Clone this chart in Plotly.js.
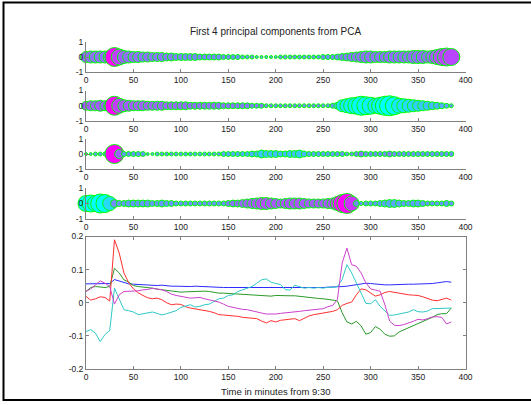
<!DOCTYPE html>
<html>
<head>
<meta charset="utf-8">
<script src="https://cdn.plot.ly/plotly-3.0.1.min.js"></script>
<style>
  html, body { margin: 0; padding: 0; background: #fff; }
  #wrap { position: relative; width: 531px; height: 405px; overflow: hidden; }
  #chart { position: absolute; left: 0; top: 0; width: 531px; height: 405px; }
  #clip { position: absolute; left: 5px; top: 396px; width: 526px; height: 3px; background: #fff; }
</style>
</head>
<body>
<div id="wrap"><div id="chart"></div><div id="clip"></div></div>
<script>
// ---------------- data ----------------
const minutes = [0,5,10,15,20,25,30,35,40,45,50,55,60,65,70,75,80,85,90,95,
  100,105,110,115,120,125,130,135,140,145,150,155,160,165,170,175,180,185,190,195,
  200,205,210,215,220,225,230,235,240,245,250,255,260,265,270,275,280,285,290,295,
  300,305,310,315,320,325,330,335,340,345,350,355,360,365,370,375,380,385];

// relative bubble magnitude (0..1) and colour tone (0 = cyan, 1 = magenta) per component
const pc1Mag = [0.55,0.6,0.6,0.6,0.6,0.65,0.95,0.8,0.65,0.6,
  0.55,0.55,0.5,0.5,0.45,0.45,0.45,0.4,0.4,0.35,
  0.35,0.35,0.35,0.35,0.3,0.3,0.3,0.3,0.3,0.25,
  0.25,0.25,0.25,0.2,0.2,0.2,0.15,0.15,0.15,0.15,
  0.15,0.2,0.2,0.2,0.2,0.2,0.2,0.2,0.2,0.2,
  0.25,0.25,0.25,0.3,0.35,0.4,0.45,0.5,0.55,0.6,
  0.6,0.55,0.55,0.55,0.6,0.6,0.6,0.6,0.6,0.65,
  0.65,0.65,0.6,0.65,0.75,0.85,0.9,0.85];
const pc1Tone = [0.56,0.57,0.57,0.57,0.57,0.58,1.0,0.75,0.62,0.58,
  0.57,0.56,0.55,0.55,0.54,0.53,0.53,0.52,0.5,0.5,
  0.48,0.48,0.47,0.47,0.46,0.46,0.45,0.45,0.45,0.44,
  0.44,0.43,0.43,0.42,0.42,0.42,0.4,0.4,0.4,0.4,
  0.4,0.42,0.42,0.42,0.42,0.42,0.42,0.42,0.42,0.42,
  0.44,0.44,0.45,0.47,0.5,0.52,0.54,0.55,0.56,0.57,
  0.57,0.56,0.56,0.56,0.57,0.57,0.57,0.57,0.57,0.58,
  0.58,0.58,0.57,0.6,0.66,0.72,0.74,0.72];

const pc2Mag = [0.45,0.5,0.5,0.55,0.5,0.6,0.95,0.75,0.6,0.55,
  0.5,0.5,0.5,0.45,0.45,0.45,0.45,0.4,0.4,0.4,
  0.4,0.4,0.35,0.35,0.35,0.35,0.35,0.35,0.35,0.3,
  0.3,0.3,0.3,0.3,0.3,0.25,0.25,0.25,0.2,0.2,
  0.2,0.2,0.2,0.2,0.2,0.2,0.2,0.2,0.2,0.2,
  0.2,0.2,0.25,0.35,0.6,0.7,0.8,0.85,0.95,0.9,
  0.85,0.75,0.85,0.95,1.0,0.9,0.75,0.7,0.65,0.6,
  0.55,0.5,0.45,0.4,0.35,0.3,0.25,0.2];
const pc2Tone = [0.64,0.64,0.64,0.65,0.64,0.66,1.0,0.76,0.66,0.64,
  0.63,0.63,0.62,0.62,0.61,0.61,0.6,0.6,0.6,0.6,
  0.58,0.58,0.57,0.57,0.56,0.56,0.56,0.56,0.55,0.54,
  0.53,0.53,0.52,0.52,0.52,0.5,0.5,0.5,0.48,0.48,
  0.47,0.47,0.47,0.47,0.47,0.47,0.47,0.47,0.47,0.47,
  0.46,0.45,0.4,0.3,0.12,0.1,0.08,0.06,0.03,0.04,
  0.06,0.1,0.06,0.03,0.0,0.04,0.1,0.12,0.15,0.17,
  0.2,0.22,0.24,0.27,0.3,0.33,0.36,0.4];

const pc3Mag = [0.15,0.15,0.2,0.2,0.2,0.25,0.95,0.45,0.25,0.25,
  0.25,0.25,0.25,0.15,0.15,0.2,0.2,0.2,0.2,0.2,
  0.2,0.2,0.2,0.2,0.2,0.2,0.2,0.2,0.2,0.25,
  0.25,0.25,0.25,0.25,0.25,0.3,0.3,0.4,0.35,0.35,
  0.35,0.3,0.3,0.35,0.35,0.4,0.3,0.25,0.25,0.25,
  0.25,0.25,0.25,0.25,0.25,0.2,0.2,0.25,0.3,0.25,
  0.25,0.25,0.25,0.25,0.3,0.25,0.25,0.25,0.25,0.25,
  0.25,0.25,0.25,0.25,0.25,0.25,0.25,0.25];
const pc3Tone = [0.4,0.4,0.4,0.4,0.4,0.4,1.0,0.62,0.4,0.4,
  0.4,0.4,0.4,0.4,0.4,0.4,0.4,0.4,0.4,0.4,
  0.38,0.38,0.38,0.38,0.38,0.38,0.38,0.38,0.38,0.35,
  0.33,0.32,0.32,0.3,0.3,0.28,0.27,0.22,0.25,0.25,
  0.25,0.27,0.27,0.25,0.24,0.22,0.28,0.32,0.34,0.35,
  0.36,0.37,0.38,0.4,0.42,0.43,0.44,0.45,0.52,0.45,
  0.44,0.44,0.44,0.45,0.5,0.45,0.44,0.44,0.43,0.43,
  0.42,0.42,0.42,0.42,0.42,0.42,0.42,0.42];

const pc4Mag = [0.8,0.85,0.8,0.95,0.9,0.7,0.4,0.3,0.3,0.35,
  0.35,0.35,0.35,0.35,0.3,0.3,0.35,0.3,0.3,0.25,
  0.25,0.25,0.25,0.25,0.25,0.25,0.25,0.25,0.25,0.25,
  0.3,0.35,0.35,0.4,0.45,0.5,0.55,0.6,0.6,0.55,
  0.5,0.45,0.5,0.55,0.55,0.55,0.5,0.45,0.45,0.45,
  0.45,0.5,0.55,0.7,0.9,1.0,0.75,0.3,0.2,0.25,
  0.25,0.25,0.3,0.35,0.4,0.4,0.35,0.3,0.3,0.35,
  0.35,0.3,0.25,0.25,0.25,0.25,0.3,0.25];
const pc4Tone = [0.02,0.0,0.02,0.0,0.02,0.15,0.45,0.4,0.4,0.4,
  0.4,0.4,0.4,0.4,0.4,0.4,0.4,0.4,0.4,0.4,
  0.42,0.42,0.42,0.42,0.42,0.42,0.42,0.42,0.42,0.42,
  0.5,0.55,0.58,0.6,0.62,0.64,0.66,0.7,0.7,0.68,
  0.66,0.64,0.66,0.68,0.68,0.68,0.66,0.65,0.65,0.65,
  0.65,0.66,0.68,0.8,0.95,1.0,0.8,0.45,0.42,0.4,
  0.4,0.4,0.38,0.36,0.35,0.35,0.36,0.38,0.38,0.36,
  0.36,0.38,0.4,0.4,0.4,0.4,0.38,0.4];

// component time series (bottom panel)
const seriesBlue = [0.057,0.057,0.057,0.057,0.057,0.058,0.070,0.065,0.060,0.057,
  0.056,0.055,0.055,0.054,0.053,0.052,0.053,0.051,0.050,0.050,
  0.049,0.049,0.049,0.050,0.049,0.048,0.048,0.047,0.047,0.046,
  0.046,0.046,0.045,0.045,0.045,0.045,0.044,0.044,0.044,0.044,
  0.044,0.044,0.044,0.045,0.045,0.045,0.045,0.045,0.046,0.046,
  0.046,0.047,0.047,0.048,0.049,0.050,0.052,0.055,0.058,0.059,
  0.058,0.056,0.055,0.054,0.054,0.055,0.055,0.056,0.056,0.056,
  0.056,0.056,0.057,0.058,0.060,0.063,0.064,0.062];
const seriesGreen = [0.034,0.046,0.049,0.048,0.046,0.049,0.104,0.09,0.069,0.062,
  0.052,0.049,0.048,0.046,0.044,0.041,0.039,0.036,0.034,0.033,
  0.032,0.033,0.034,0.035,0.036,0.035,0.034,0.031,0.029,0.029,
  0.028,0.027,0.026,0.025,0.024,0.022,0.021,0.020,0.019,0.020,
  0.022,0.021,0.020,0.021,0.021,0.019,0.017,0.016,0.014,0.013,
  0.012,0.010,0.007,0.006,-0.03,-0.058,-0.064,-0.056,-0.07,-0.095,
  -0.09,-0.072,-0.08,-0.095,-0.101,-0.1,-0.088,-0.082,-0.075,-0.068,
  -0.062,-0.058,-0.052,-0.044,-0.036,-0.033,-0.033,-0.016];
const seriesRed = [0.019,0.008,0.012,0.018,0.016,0.005,0.19,0.15,0.09,0.06,
  0.042,0.03,0.022,0.015,0.012,0.014,0.009,0.0,-0.006,-0.004,
  -0.005,-0.012,-0.016,-0.018,-0.021,-0.024,-0.026,-0.03,-0.036,-0.037,
  -0.038,-0.04,-0.041,-0.044,-0.046,-0.047,-0.048,-0.055,-0.061,-0.054,
  -0.058,-0.053,-0.051,-0.049,-0.048,-0.054,-0.046,-0.04,-0.036,-0.034,
  -0.031,-0.029,-0.026,-0.021,-0.008,-0.002,0.002,0.024,0.042,0.039,
  0.03,0.02,0.024,0.031,0.034,0.031,0.029,0.027,0.024,0.023,
  0.022,0.018,0.012,0.008,0.006,0.01,0.014,0.008];
const seriesCyan = [-0.087,-0.081,-0.092,-0.117,-0.096,-0.084,0.044,0.01,-0.021,-0.024,
  -0.028,-0.036,-0.034,-0.031,-0.028,-0.032,-0.037,-0.033,-0.028,-0.024,
  -0.014,-0.011,-0.006,-0.013,-0.011,-0.006,-0.004,0.004,0.012,0.014,
  0.022,0.024,0.034,0.039,0.044,0.049,0.059,0.069,0.072,0.062,
  0.058,0.055,0.04,0.038,0.053,0.048,0.044,0.046,0.044,0.046,
  0.044,0.047,0.046,0.049,0.07,0.115,0.09,0.06,0.028,-0.002,
  -0.003,0.009,-0.011,-0.026,-0.038,-0.037,-0.034,-0.031,-0.028,-0.021,
  -0.027,-0.028,-0.025,-0.018,-0.017,-0.016,-0.016,-0.016];
const seriesMagenta = [0.034,0.042,0.054,0.066,0.059,0.049,-0.004,0.024,0.034,0.034,
  0.034,0.036,0.039,0.04,0.044,0.042,0.039,0.034,0.026,0.022,
  0.019,0.016,0.014,0.015,0.016,0.012,0.009,0.005,0.002,-0.004,
  -0.011,-0.014,-0.018,-0.02,-0.021,-0.025,-0.028,-0.031,-0.034,-0.035,
  -0.034,-0.032,-0.031,-0.029,-0.028,-0.026,-0.024,-0.023,-0.021,-0.02,
  -0.018,-0.012,-0.008,0.01,0.12,0.165,0.115,0.11,0.09,0.06,
  0.042,0.038,0.035,-0.006,-0.055,-0.068,-0.069,-0.066,-0.062,-0.056,
  -0.05,-0.052,-0.048,-0.043,-0.042,-0.044,-0.064,-0.058];

const xTickVals = [0,50,100,150,200,250,300,350,400];
const xTickText = ['0','50','100','150','200','250','300','350','400'];
const pcTickVals = [-1,0,1];
const pcTickText = ['-1','0','1'];
const lineTickVals = [-0.2,-0.1,0,0.1,0.2];
const lineTickText = ['-0.2','-0.1','0','0.1','0.2'];

const chartTitle = 'First 4 principal components from PCA';
const xLabel = 'Time in minutes from 9:30';

// ---------------- drawing ----------------
const W = 531, H = 405;
const FONT = 'Liberation Sans, Arial, Helvetica, sans-serif';
const axisColor = '#808080';
const textColor = '#222222';
const maxBubble = 20;
const coolScale = [[0,'rgb(0,255,255)'],[1,'rgb(255,0,255)']];

const xDom = [86 / W, 465.5 / W];
function yDom(top, bottom) { return [1 - bottom / H, 1 - top / H]; }
const panels = [
  yDom(42, 72), yDom(90.5, 121), yDom(139, 169), yDom(188, 219)
];
const lineDom = yDom(236.5, 369);

const comps = [[pc1Mag, pc1Tone],[pc2Mag, pc2Tone],[pc3Mag, pc3Tone],[pc4Mag, pc4Tone]];

const traces = [];
comps.forEach(([mag, tone], k) => {
  traces.push({
    type: 'scatter', mode: 'markers',
    x: minutes, y: minutes.map(() => 0),
    xaxis: 'x' + (k === 0 ? '' : k + 1), yaxis: 'y' + (k === 0 ? '' : k + 1),
    cliponaxis: false,
    hoverinfo: 'skip',
    marker: {
      size: mag.map(m => m * maxBubble),
      color: tone, colorscale: coolScale, cmin: 0, cmax: 1, showscale: false,
      line: { color: '#00ff00', width: 1 }, opacity: 1
    },
    showlegend: false
  });
});

const lineSeries = [
  [seriesBlue, '#2b2bff'],
  [seriesGreen, '#2a9a2a'],
  [seriesRed, '#ff3030'],
  [seriesCyan, '#30c8c8'],
  [seriesMagenta, '#cc40cc']
];
lineSeries.forEach(([vals, col]) => {
  traces.push({
    type: 'scatter', mode: 'lines', x: minutes, y: vals,
    xaxis: 'x5', yaxis: 'y5',
    line: { color: col, width: 1 },
    showlegend: false, hoverinfo: 'skip'
  });
});

const tickFont = { family: FONT, size: 8.5, color: textColor };
function xAxis(anchor, mirror) {
  return {
    domain: xDom, anchor: anchor, range: [0, 400],
    showline: true, linecolor: axisColor, linewidth: 1, mirror: mirror,
    ticks: 'inside', ticklen: 3, tickcolor: axisColor, tickwidth: 1,
    tickvals: xTickVals, ticktext: xTickText, tickfont: tickFont,
    showgrid: false, zeroline: false, automargin: false, fixedrange: true
  };
}
function yAxis(anchor, dom, range, tv, tt, mirror) {
  return {
    domain: dom, anchor: anchor, range: range,
    showline: true, linecolor: axisColor, linewidth: 1, mirror: mirror,
    ticks: 'inside', ticklen: 3, tickcolor: axisColor, tickwidth: 1,
    tickvals: tv, ticktext: tt, tickfont: tickFont,
    showgrid: false, zeroline: false, automargin: false, fixedrange: true
  };
}

const layout = {
  width: W, height: H,
  margin: { l: 0, r: 0, t: 0, b: 0, pad: 0 },
  paper_bgcolor: '#ffffff', plot_bgcolor: 'rgba(0,0,0,0)',
  showlegend: false,
  font: { family: FONT, color: textColor },
  title: {
    text: chartTitle, font: { family: FONT, size: 10, color: textColor },
    x: 275.5 / W, xanchor: 'center', y: 1 - 31 / H, yanchor: 'middle'
  },
  xaxis: xAxis('y', false),
  xaxis2: xAxis('y2', false),
  xaxis3: xAxis('y3', false),
  xaxis4: xAxis('y4', false),
  xaxis5: Object.assign(xAxis('y5', 'ticks'), {
    title: { text: xLabel, font: { family: FONT, size: 9.5, color: textColor }, standoff: 7 }
  }),
  yaxis: yAxis('x', panels[0], [-1, 1], pcTickVals, pcTickText, false),
  yaxis2: yAxis('x2', panels[1], [-1, 1], pcTickVals, pcTickText, false),
  yaxis3: yAxis('x3', panels[2], [-1, 1], pcTickVals, pcTickText, false),
  yaxis4: yAxis('x4', panels[3], [-1, 1], pcTickVals, pcTickText, false),
  yaxis5: yAxis('x5', lineDom, [-0.2, 0.2], lineTickVals, lineTickText, 'ticks'),
  shapes: [{
    type: 'rect', xref: 'paper', yref: 'paper',
    x0: 3.5 / W, x1: 1.05, y0: 1 - 400 / H, y1: 1 - 2.5 / H,
    line: { color: '#000000', width: 2 }, fillcolor: 'rgba(0,0,0,0)', layer: 'above'
  }]
};

Plotly.newPlot('chart', traces, layout, { staticPlot: true, displayModeBar: false });
</script>
</body>
</html>
